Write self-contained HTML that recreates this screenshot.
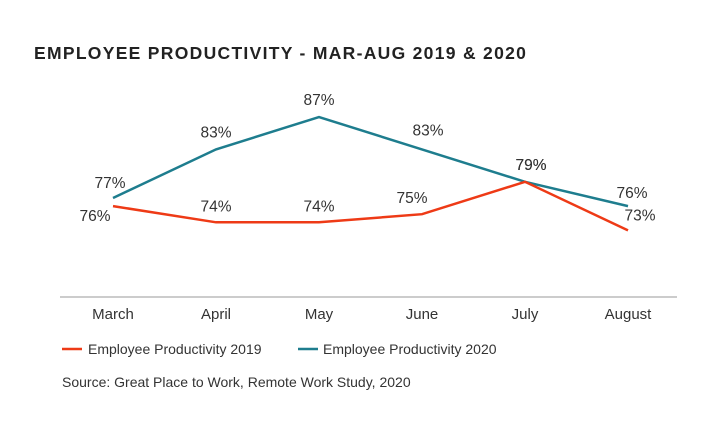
<!DOCTYPE html>
<html><head><meta charset="utf-8"><style>
body{margin:0;background:#fff;font-family:"Liberation Sans",sans-serif;}
svg{display:block}
</style></head><body>
<svg width="720" height="432">
<text x="34" y="59" font-size="17.5" font-weight="bold" letter-spacing="1.3" fill="#222">EMPLOYEE PRODUCTIVITY - MAR-AUG 2019 &amp; 2020</text>
<line x1="60" y1="297" x2="677" y2="297" stroke="#bbb" stroke-width="1.5"/>
<g id="plot"></g>
<line x1="62" y1="349" x2="82" y2="349" stroke="#ee3a16" stroke-width="2.5"/>
<text x="88" y="354" font-size="14" fill="#333">Employee Productivity 2019</text>
<line x1="298" y1="349" x2="318" y2="349" stroke="#1e7d8e" stroke-width="2.5"/>
<text x="323" y="354" font-size="14" fill="#333">Employee Productivity 2020</text>
<text x="62" y="387" font-size="14" fill="#333">Source: Great Place to Work, Remote Work Study, 2020</text>
</svg>
<script>
const categories=["March","April","May","June","July","August"];
const values2019=[76,74,74,75,79,73];
const values2020=[77,83,87,83,79,76];
const labelOff2019=[[-18,15],[0,-11],[0,-11],[-10,-11],[6,-12],[12,-10]];
const labelOff2020=[[-3,-10],[0,-12],[0,-12],[6,-14],[6,-12],[4,-8]];
const NS="http://www.w3.org/2000/svg";
const g=document.getElementById('plot');
function xScale(i){return 113+i*103;}
function yScale(v){return 117+(87-v)*8.1;}
categories.forEach((c,i)=>{
  const t=document.createElementNS(NS,'text');
  t.setAttribute('x',xScale(i));t.setAttribute('y',319);
  t.setAttribute('text-anchor','middle');t.setAttribute('font-size','15');t.setAttribute('fill','#333');
  t.textContent=c;
  
  
  g.appendChild(t);
});
function series(vals,col,offs,name){
  const p=document.createElementNS(NS,'polyline');
  p.setAttribute('points',vals.map((v,i)=>xScale(i)+','+yScale(v)).join(' '));
  p.setAttribute('fill','none');p.setAttribute('stroke',col);p.setAttribute('stroke-width','2.5');
  
  
  g.appendChild(p);
  vals.forEach((v,i)=>{
    const t=document.createElementNS(NS,'text');
    t.setAttribute('x',xScale(i)+offs[i][0]);t.setAttribute('y',yScale(v)+offs[i][1]);
    t.setAttribute('text-anchor','middle');t.setAttribute('font-size','15.5');t.setAttribute('fill','#333');
    t.textContent=v+'%';
    
    
    g.appendChild(t);
  });
}
series(values2020,'#1e7d8e',labelOff2020,'line-2020');
series(values2019,'#ee3a16',labelOff2019,'line-2019');
</script>
</body></html>
